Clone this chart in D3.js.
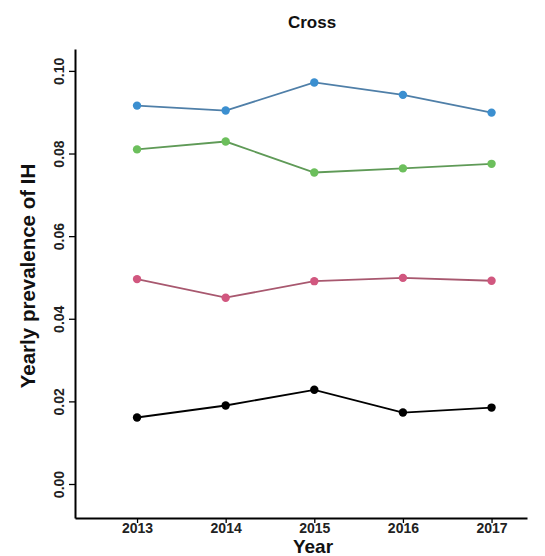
<!DOCTYPE html>
<html>
<head>
<meta charset="utf-8">
<script src="https://cdn.jsdelivr.net/npm/d3@7"></script>
<style>
  html, body { margin: 0; padding: 0; background: #fff; }
  svg { display: block; font-family: "Liberation Sans", Arial, sans-serif; }
</style>
</head>
<body>
<svg id="chart" width="545" height="556"></svg>
<script>
const years = [2013, 2014, 2015, 2016, 2017];
const seriesBlue  = [0.0916, 0.0904, 0.0972, 0.0942, 0.0899];
const seriesGreen = [0.0810, 0.0829, 0.0754, 0.0764, 0.0775];
const seriesPink  = [0.0496, 0.0451, 0.0491, 0.0499, 0.0492];
const seriesBlack = [0.0161, 0.0190, 0.0228, 0.0173, 0.0185];
const yTicks = [0.00, 0.02, 0.04, 0.06, 0.08, 0.10];
const titleText = "Cross";
const xTitle = "Year";
const yTitle = "Yearly prevalence of IH";

const series = [
  { values: seriesBlue,  color: "#3b8fd0", line: "#4f7fa8" },
  { values: seriesGreen, color: "#6cbf5c", line: "#5f9a57" },
  { values: seriesPink,  color: "#d1577f", line: "#a8586f" },
  { values: seriesBlack, color: "#000000", line: "#000000" }
];

const svg = d3.select("#chart");
const mLeft = 75, mBottom = 518, mTop = 49;

// 0.00 sits at y=484, 0.10 at y=70.7
const x = d3.scaleLinear().domain([2012.3, 2017.4]).range([mLeft, 527]);
const y = d3.scaleLinear().domain([-0.00823, 0.1053]).range([mBottom, mTop]);

// y axis
const yAxis = svg.append("g")
  .attr("transform", `translate(${mLeft},0)`)
  .call(d3.axisLeft(y).tickValues(yTicks).tickFormat(d3.format(".2f")).tickSize(6).tickSizeOuter(0));
yAxis.select(".domain").attr("stroke", "#000").attr("stroke-width", 2);
yAxis.selectAll(".tick line").attr("stroke", "#000").attr("stroke-width", 1.3);
yAxis.selectAll(".tick text")
  .attr("font-size", 14).attr("font-weight", "bold").attr("fill", "#222")
  .attr("text-anchor", "middle")
  .attr("x", 0).attr("dy", 0)
  .attr("transform", "translate(-11,0) rotate(-90)")
  .attr("y", 0);

// x axis
const xAxis = svg.append("g")
  .attr("transform", `translate(0,${mBottom})`)
  .call(d3.axisBottom(x).tickValues(years).tickFormat(d3.format("d")).tickSize(5).tickSizeOuter(0));
xAxis.select(".domain").attr("stroke", "#000").attr("stroke-width", 2);
xAxis.selectAll(".tick line").attr("stroke", "#000").attr("stroke-width", 1.3);
xAxis.selectAll(".tick text")
  .attr("font-size", 14).attr("font-weight", "bold").attr("fill", "#222")
  .attr("y", 5);

// lines and points
const line = d3.line().x((d, i) => x(years[i])).y(d => y(d));
series.forEach(s => {
  svg.append("path")
    .attr("d", line(s.values))
    .attr("fill", "none")
    .attr("stroke", s.line)
    .attr("stroke-width", 1.8);
  svg.selectAll(null)
    .data(s.values)
    .enter().append("circle")
    .attr("cx", (d, i) => x(years[i]))
    .attr("cy", d => y(d))
    .attr("r", 4.2)
    .attr("fill", s.color);
});

// titles
svg.append("text")
  .attr("x", 312).attr("y", 28)
  .attr("text-anchor", "middle")
  .attr("font-size", 17).attr("font-weight", "bold").attr("fill", "#111")
  .text(titleText);

svg.append("text")
  .attr("x", 313).attr("y", 553)
  .attr("text-anchor", "middle")
  .attr("font-size", 19).attr("font-weight", "bold").attr("fill", "#111")
  .text(xTitle);

svg.append("text")
  .attr("transform", "translate(35,276) rotate(-90)")
  .attr("text-anchor", "middle")
  .attr("font-size", 20.5).attr("font-weight", "bold").attr("fill", "#111")
  .text(yTitle);
</script>
</body>
</html>
